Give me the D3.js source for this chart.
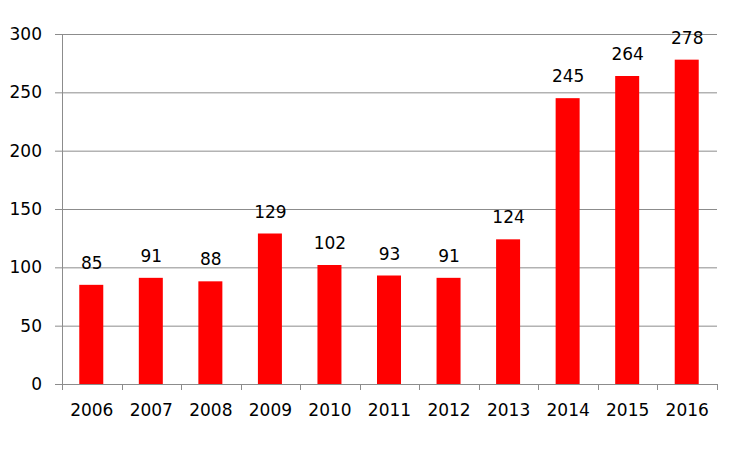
<!DOCTYPE html>
<html><head><meta charset="utf-8">
<script src="https://cdn.jsdelivr.net/npm/d3@7"></script>
<style>body{margin:0;background:#fff;} svg{display:block;}</style>
</head><body>
<script>
const years = ["2006","2007","2008","2009","2010","2011","2012","2013","2014","2015","2016"];
const values = [85, 91, 88, 129, 102, 93, 91, 124, 245, 264, 278];
const yTicks = [0, 50, 100, 150, 200, 250, 300];

const W = 751, H = 450;
const m = {left: 62, right: 34, top: 34, bottom: 66};
const svg = d3.select("body").append("svg").attr("width", W).attr("height", H);
const font = "DejaVu Sans, sans-serif";
const fs = 17;

const x = d3.scaleBand().domain(years).range([m.left, W - m.right]).paddingInner(0).paddingOuter(0);
const y = d3.scaleLinear().domain([0, 300]).range([H - m.bottom, m.top]);

// gridlines
svg.append("g").selectAll("line").data(yTicks.filter(d => d > 0)).join("line")
  .attr("x1", m.left - 7).attr("x2", W - m.right)
  .attr("y1", d => y(d) + 0.5).attr("y2", d => y(d) + 0.5)
  .attr("stroke", "#8c8c8c").attr("stroke-width", 1);

// y tick mark for 0
svg.append("line").attr("x1", m.left - 7).attr("x2", m.left).attr("y1", y(0) + 0.5).attr("y2", y(0) + 0.5)
  .attr("stroke", "#8c8c8c");

// y labels
svg.append("g").selectAll("text").data(yTicks).join("text")
  .attr("x", m.left - 20).attr("y", d => y(d)).attr("dy", "0.36em")
  .attr("text-anchor", "end").attr("font-family", font).attr("font-size", fs).attr("fill", "#000")
  .text(d => d);

// bars
const bw = 24;
svg.append("g").selectAll("rect").data(values).join("rect")
  .attr("x", (d, i) => x(years[i]) + x.bandwidth() / 2 - bw / 2 - 0.5)
  .attr("width", bw)
  .attr("y", d => y(d))
  .attr("height", d => y(0) - y(d))
  .attr("fill", "#ff0000");

// value labels
svg.append("g").selectAll("text").data(values).join("text")
  .attr("x", (d, i) => x(years[i]) + x.bandwidth() / 2)
  .attr("y", d => y(d) - 16)
  .attr("text-anchor", "middle").attr("font-family", font).attr("font-size", fs).attr("fill", "#000")
  .text(d => d);

// axes lines
svg.append("line").attr("x1", m.left + 0.5).attr("x2", m.left + 0.5).attr("y1", m.top).attr("y2", y(0))
  .attr("stroke", "#8c8c8c");
svg.append("line").attr("x1", m.left).attr("x2", W - m.right).attr("y1", y(0) + 0.5).attr("y2", y(0) + 0.5)
  .attr("stroke", "#8c8c8c");

// x tick marks at band boundaries
const bounds = years.map(d => x(d)).concat([W - m.right]);
svg.append("g").selectAll("line").data(bounds).join("line")
  .attr("x1", d => Math.round(d) + 0.5).attr("x2", d => Math.round(d) + 0.5)
  .attr("y1", y(0)).attr("y2", y(0) + 6)
  .attr("stroke", "#8c8c8c");

// x labels
svg.append("g").selectAll("text").data(years).join("text")
  .attr("x", d => x(d) + x.bandwidth() / 2)
  .attr("y", y(0) + 32)
  .attr("text-anchor", "middle").attr("font-family", font).attr("font-size", fs).attr("fill", "#000")
  .text(d => d);
</script>
</body></html>
